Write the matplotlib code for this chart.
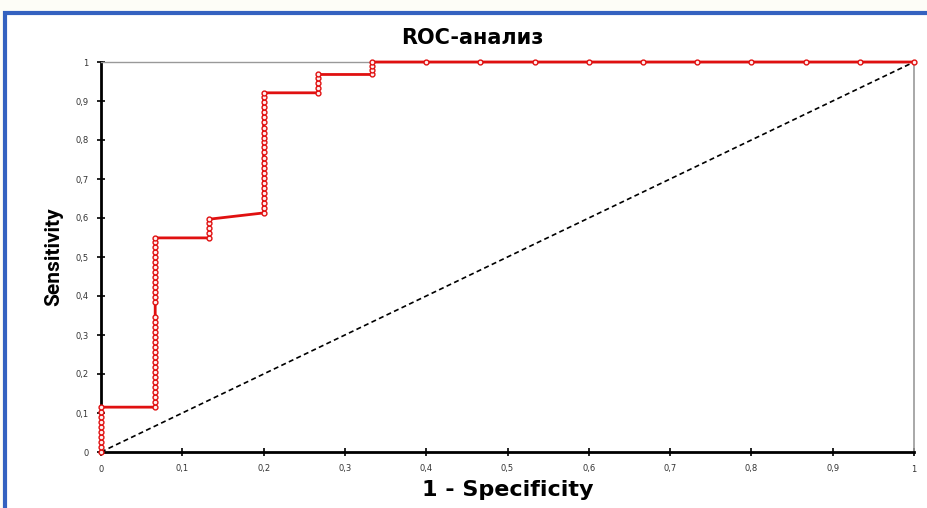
import numpy as np
import matplotlib.pyplot as plt
from matplotlib.patches import Rectangle

# ROC points (1 - specificity, sensitivity)
seg_x = [0.0, 1/15, 2/15, 3/15, 4/15, 5/15]
seg_y = [
    [0.0, 0.013, 0.026, 0.038, 0.051, 0.064, 0.077, 0.090, 0.103, 0.115],
    [0.115, 0.128, 0.141, 0.154, 0.167, 0.179, 0.192, 0.205, 0.218, 0.231,
     0.244, 0.256, 0.269, 0.282, 0.295, 0.308, 0.321, 0.333, 0.346,
     0.385, 0.397, 0.410, 0.423, 0.436, 0.449, 0.462, 0.474, 0.487,
     0.500, 0.513, 0.526, 0.538, 0.549],
    [0.549, 0.562, 0.575, 0.587, 0.597],
    [0.613, 0.626, 0.639, 0.652, 0.665, 0.678, 0.690, 0.703, 0.716, 0.729,
     0.742, 0.755, 0.768, 0.781, 0.794, 0.806, 0.819, 0.832, 0.845, 0.858,
     0.871, 0.884, 0.897, 0.910, 0.921],
    [0.921, 0.934, 0.947, 0.960, 0.968],
    [0.968, 0.980, 0.990, 1.0],
]
top_x = [6/15, 7/15, 8/15, 9/15, 10/15, 11/15, 12/15, 13/15, 14/15, 1.0]

fpr = []
tpr = []
for sx, ys in zip(seg_x, seg_y):
    for yv in ys:
        fpr.append(sx)
        tpr.append(yv)
for tx in top_x:
    fpr.append(tx)
    tpr.append(1.0)

ticks = np.round(np.arange(0, 1.01, 0.1), 1)
tick_labels = ["0"] + [("%.1f" % t).replace(".", ",") for t in ticks[1:-1]] + ["1"]

fig = plt.figure(figsize=(9.27, 5.08), dpi=100)
fig.patch.set_facecolor("#fdfdf7")
# blue frame around the chart
fig.patches.append(Rectangle((5/927, -0.02), 1.0, 1 - 13/508 + 0.02,
                             transform=fig.transFigure, facecolor="white",
                             edgecolor="#3462c0", linewidth=3, zorder=-1))

ax = fig.add_axes([101/927, 1 - 452/508, (914 - 101)/927, (452 - 62)/508])
ax.set_zorder(2)
ax.set_facecolor("none")

ax.plot([0, 1], [0, 1], color="black", linestyle=(0, (3, 2)), linewidth=1.2)
ax.plot(fpr, tpr, color="#e01010", linewidth=2, marker="o", markersize=3.5,
        markerfacecolor="#fff0f0", markeredgecolor="#e01010",
        markeredgewidth=1, clip_on=False, zorder=3)

ax.set_xlim(0, 1)
ax.set_ylim(0, 1)
ax.set_xticks(ticks)
ax.set_yticks(ticks)
ax.set_xticklabels(tick_labels, fontsize=6, color="#333333")
ax.set_yticklabels(tick_labels, fontsize=6, color="#333333")
ax.tick_params(direction="inout", length=6, width=1.2, pad=6)

ax.spines["left"].set_linewidth(2)
ax.spines["bottom"].set_linewidth(2)
ax.spines["top"].set_color("#999999")
ax.spines["right"].set_color("#999999")
ax.spines["top"].set_linewidth(1)
ax.spines["right"].set_linewidth(1.2)

ax.set_xlabel("1 - Specificity", fontsize=16, fontweight="bold", labelpad=5)
ax.set_ylabel("Sensitivity", fontsize=15, fontweight="bold", labelpad=9,
              family=["Roboto", "DejaVu Sans"])
fig.text(472/927, 1 - 38/508, "ROC-анализ", fontsize=15, fontweight="bold",
         ha="center", va="center", zorder=3)

fig.savefig("out.png", dpi=100)
